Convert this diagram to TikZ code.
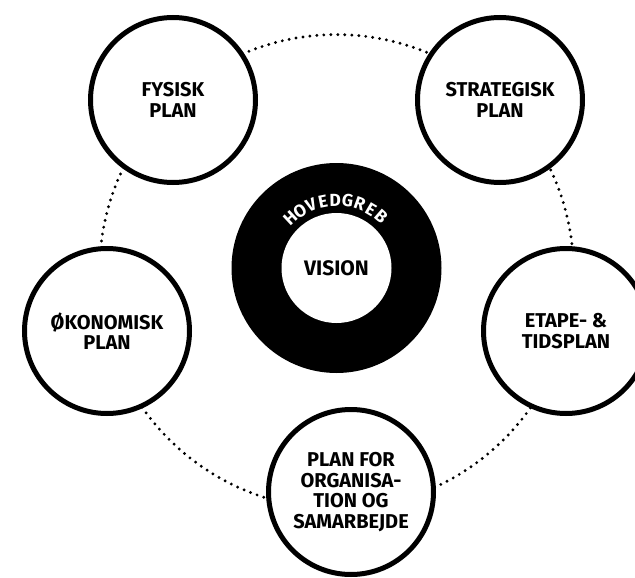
\documentclass[tikz,border=0pt]{standalone}
\usepackage{fontspec}
\setmainfont{Fira Sans}
\usetikzlibrary{positioning,calc}
\tikzset{plan/.style={circle,draw,line width=5pt,fill=white,minimum size=165pt,inner sep=0pt,align=center,font=\bfseries\fontsize{20}{20.5}\selectfont}}
\tikzset{ringletter/.style={text=white,inner sep=0pt,font=\bfseries\fontsize{17.5}{17.5}\selectfont}}

\begin{document}
\begin{tikzpicture}[x=1pt,y=-1pt]
    \useasboundingbox (0,0) rectangle (635,578);
    \coordinate (mid) at (336.5,271.6);
    \draw [line width=3.2pt,line cap=round,dash pattern=on 0pt off 7pt] (mid) circle (237pt);
    \node[plan] (fysisk) at (173,100) {FYSISK\\PLAN};
    \node[plan] (strategisk) at (500,100) {STRATEGISK\\PLAN};
    \node[plan] (oekonomisk) at (107,331) {ØKONOMISK\\PLAN};
    \node[plan] (etape) at (566,331) {ETAPE- \&\\TIDSPLAN};
    \node[plan] (organisation) at (351,492) {PLAN FOR\\ORGANISA-\\TION OG\\SAMARBEJDE};
    % ring in the middle
    \node[circle,fill=black,minimum size=210pt,inner sep=0pt] (hovedgreb) at (336.5,268) {};
    \node[circle,fill=white,minimum size=110pt,inner sep=0pt,font=\bfseries\fontsize{21}{21}\selectfont] (vision) at (hovedgreb) {VISION};
    \foreach \l [count=\i] in {H,O,V,E,D,G,R,E,B}
        \node[ringletter,rotate=43-10.5*(\i-1)] at ($(hovedgreb)+({133-10.5*(\i-1)}:68pt)$) {\l};
\end{tikzpicture}
\end{document}
